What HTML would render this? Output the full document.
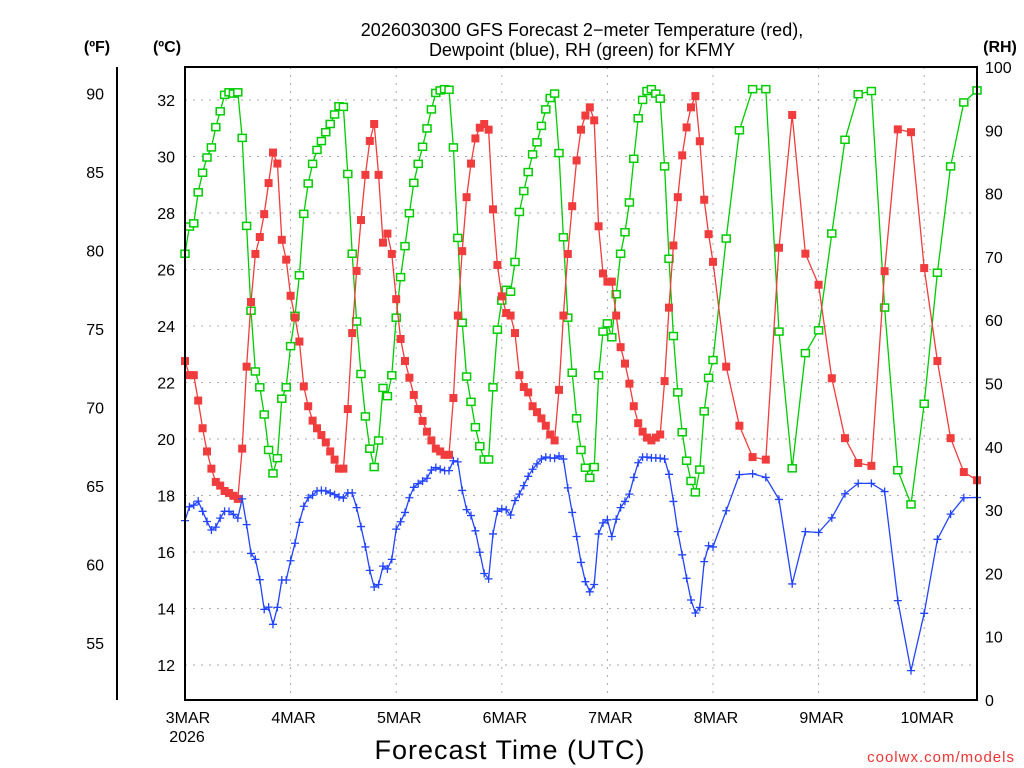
<!DOCTYPE html>
<html><head><meta charset="utf-8"><style>
body{margin:0;background:#fff;}
svg{display:block;font-family:"Liberation Sans",sans-serif;}
</style></head><body>
<svg id="chart" width="1024" height="768" viewBox="0 0 1024 768" xmlns="http://www.w3.org/2000/svg">
<rect width="1024" height="768" fill="#fff"/>
<text x="582" y="36" font-size="18" text-anchor="middle">2026030300 GFS Forecast 2−meter Temperature (red),</text>
<text x="582" y="56" font-size="18" text-anchor="middle">Dewpoint (blue), RH (green) for KFMY</text>
<text x="97" y="52" font-size="16" font-weight="bold" text-anchor="middle">(ºF)</text>
<text x="167" y="52" font-size="16" font-weight="bold" text-anchor="middle">(ºC)</text>
<text x="1000" y="52" font-size="16" font-weight="bold" text-anchor="middle">(RH)</text>
<g id="grid"></g>
<g id="axes"></g>
<g id="series"></g>
<rect x="185" y="67" width="792" height="633" fill="none" stroke="#000" stroke-width="2"/>
<line x1="117" y1="67" x2="117" y2="700" stroke="#000" stroke-width="2"/>
<text x="510" y="759" font-size="27" text-anchor="middle" letter-spacing="1">Forecast Time (UTC)</text>
<text x="1015" y="762" font-size="15" fill="#e33" text-anchor="end" letter-spacing="1">coolwx.com/models</text>
</svg>
<script>
const tempC = [22.76,22.26,22.26,21.36,20.38,19.56,18.95,18.48,18.35,18.16,18.09,17.99,17.88,
19.66,22.56,24.85,26.55,27.15,27.96,29.06,30.14,29.75,27.05,26.35,
25.07,24.3,23.45,21.86,21.16,20.65,20.38,20.14,19.88,19.56,19.27,18.95,18.95,
21.06,23.75,25.95,27.75,29.35,30.55,31.15,29.35,26.95,27.27,
26.55,24.95,23.54,22.76,22.17,21.56,21.06,20.64,20.26,19.95,19.66,19.56,19.44,19.44,
21.45,24.37,26.65,28.56,29.75,30.64,31.02,31.15,30.95,28.13,26.16,
25.05,24.46,24.37,23.75,22.26,21.84,21.65,21.16,20.95,20.73,20.47,20.16,19.95,
21.74,24.37,26.55,28.24,29.86,30.95,31.45,31.74,31.28,
27.53,25.86,25.57,25.57,24.37,23.25,22.67,21.96,21.16,20.56,20.26,20.05,19.95,20.05,20.16,
22.05,24.65,26.85,28.56,30.04,31.03,31.74,32.14,30.54,28.47,27.25,26.27,
22.56,20.47,19.36,19.27,26.77,31.47,26.56,25.46,22.15,20.03,19.15,19.05,25.94,30.96,30.86,26.05,22.76,20.03,18.83,18.54];
const dewC = [17.11,17.6,17.66,17.80,17.44,17.08,16.78,16.88,17.20,17.44,17.44,17.33,17.20,
17.88,16.97,15.95,15.74,15.02,13.97,14.05,13.44,14.04,15.01,15.01,
15.69,16.31,17.05,17.62,17.92,18.01,18.16,18.18,18.16,18.09,18.03,17.95,17.91,
18.09,18.09,17.57,16.90,16.18,15.35,14.76,14.85,15.50,15.40,
15.74,16.81,17.07,17.40,17.92,18.29,18.42,18.51,18.61,18.90,18.99,18.93,18.88,18.88,
19.23,19.19,18.18,17.50,17.29,16.75,15.99,15.24,15.05,16.64,17.44,
17.53,17.49,17.31,17.82,18.05,18.35,18.68,18.93,19.12,19.29,19.36,19.33,19.32,
19.40,19.29,18.27,17.40,16.55,15.63,14.95,14.59,14.85,
16.64,17.03,17.14,16.55,17.16,17.57,17.79,18.05,18.64,19.16,19.36,19.36,19.33,19.33,19.32,
19.29,18.75,17.79,16.72,15.90,15.07,14.30,13.84,14.04,15.66,16.22,16.18,
17.46,18.74,18.77,18.64,17.86,14.87,16.72,16.69,17.21,18.06,18.43,18.43,18.14,14.28,11.80,13.83,16.45,17.34,17.92,17.93];
const rhPct = [70.5,74.8,75.3,80.2,83.3,85.7,87.3,90.5,93.0,95.6,96.0,95.8,96.0,
88.8,74.9,61.5,51.9,49.4,45.1,39.5,35.8,38.2,47.6,49.4,
55.9,60.7,67.1,76.8,81.6,84.7,86.9,88.3,89.7,91.0,92.5,93.8,93.7,
83.1,70.5,59.8,51.5,44.8,39.7,36.8,41.0,49.3,48.0,
51.3,60.4,66.8,71.7,76.9,81.7,84.7,87.4,90.3,93.3,95.9,96.3,96.5,96.4,
87.3,73.0,59.6,51.1,47.1,43.1,40.1,38.0,38.0,49.4,58.5,
63.1,64.8,64.5,69.2,77.1,80.4,83.4,86.2,88.1,90.7,93.3,95.1,95.8,
86.4,73.1,60.4,51.7,44.5,39.5,36.7,35.1,36.8,
51.3,58.2,59.5,57.3,64.1,70.5,73.9,78.6,85.5,91.9,94.8,96.2,96.5,95.8,95.0,
84.3,69.7,57.5,48.6,42.3,37.8,34.6,32.8,36.4,45.6,50.9,53.7,
72.9,90.0,96.5,96.5,58.2,36.6,54.8,58.4,73.7,88.5,95.7,96.2,62.0,36.3,30.9,46.8,67.5,84.3,94.4,96.3];
const celsiusTicks = [12,14,16,18,20,22,24,26,28,30,32];
const fahrenheitTicks = [55,60,65,70,75,80,85,90];
const rhTicks = [0,10,20,30,40,50,60,70,80,90,100];
const dayLabels = ["3MAR","4MAR","5MAR","6MAR","7MAR","8MAR","9MAR","10MAR"];
const forecastHours = [];
for (let h = 0; h <= 120; h++) forecastHours.push(h);
for (let h = 123; h <= 180; h += 3) forecastHours.push(h);

const NS = "http://www.w3.org/2000/svg";
const X0 = 185, X1 = 977, Y0 = 67, Y1 = 700;
const xOf = h => X0 + h * (X1 - X0) / 180;
const yC = c => 100 + (32 - c) * 28.25;
const yF = f => yC((f - 32) * 5 / 9);
const yRH = r => Y1 - r * (Y1 - Y0) / 100;
function mk(tag, attrs, parent) {
  const e = document.createElementNS(NS, tag);
  for (const k in attrs) e.setAttribute(k, attrs[k]);
  parent.appendChild(e);
  return e;
}
const grid = document.getElementById("grid");
const axes = document.getElementById("axes");
const series = document.getElementById("series");

celsiusTicks.forEach(c => {
  const l = mk("line", {x1: X0, x2: X1, y1: yC(c), y2: yC(c), stroke: "#aaa", "stroke-dasharray": "2,6"}, grid);
  
  
  const t = mk("text", {x: 175, y: yC(c) + 6, "font-size": 16, "text-anchor": "end"}, axes);
  t.textContent = c;
  
  
});
fahrenheitTicks.forEach(f => {
  const t = mk("text", {x: 104, y: yF(f) + 6, "font-size": 16, "text-anchor": "end"}, axes);
  t.textContent = f;
  
  
});
rhTicks.forEach(r => {
  const t = mk("text", {x: 985, y: yRH(r) + 6, "font-size": 16}, axes);
  t.textContent = r;
  
  
});
dayLabels.forEach((d, i) => {
  const x = xOf(i * 24);
  if (i > 0) {
    const l = mk("line", {x1: x, x2: x, y1: Y0, y2: Y1, stroke: "#aaa", "stroke-dasharray": "2,6"}, grid);
    
    
  }
  const t = mk("text", {x: x + 3, y: 723, "font-size": 16, "text-anchor": "middle"}, axes);
  t.textContent = d;
  
  
});
const yr = mk("text", {x: 187, y: 742, "font-size": 16, "text-anchor": "middle"}, axes);
yr.textContent = "2026";



function drawSeries(vals, yFn, color, kind, name) {
  const pts = vals.map((v, i) => xOf(forecastHours[i]).toFixed(1) + "," + yFn(v).toFixed(1)).join(" ");
  const pl = mk("polyline", {points: pts, fill: "none", stroke: color, "stroke-width": 1.3}, series);
  
  
  vals.forEach((v, i) => {
    const x = xOf(forecastHours[i]), y = yFn(v);
    let m;
    if (kind === "fill") {
      m = mk("rect", {x: x - 4, y: y - 4, width: 8, height: 8, fill: color}, series);
    } else if (kind === "open") {
      m = mk("rect", {x: x - 4, y: y - 3.5, width: 8, height: 7, fill: "#fff", stroke: color, "stroke-width": 1.5}, series);
    } else {
      m = mk("path", {d: `M${x - 4},${y}h8M${x},${y - 4}v8`, stroke: color, "stroke-width": 1.3}, series);
    }
    
    
  });
}
drawSeries(rhPct, yRH, "#00cc00", "open", "rh");
drawSeries(tempC, yC, "#f03c3c", "fill", "temperature");
drawSeries(dewC, yC, "#2244ff", "plus", "dewpoint");
</script>
</body></html>
